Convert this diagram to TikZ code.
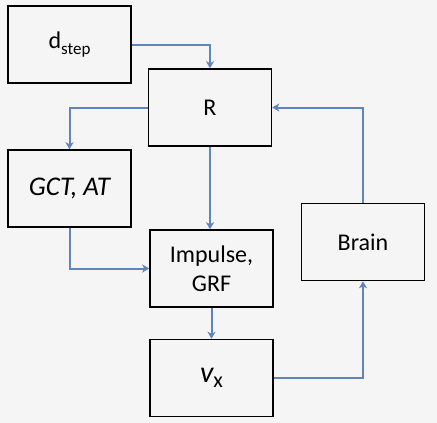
\documentclass[tikz,border=0pt]{standalone}
\usepackage{fontspec}
\setmainfont{Carlito}
\usetikzlibrary{arrows.meta}
\definecolor{flowblue}{RGB}{96,133,186}
\definecolor{paper}{RGB}{245,245,245}

\tikzset{
    block/.style={draw=black, line width=1.5pt, fill=paper, minimum width=123pt, minimum height=77pt, inner sep=0pt, font=\fontsize{24}{29}\selectfont, align=center},
    flow/.style={draw=flowblue, line width=2pt, -{Stealth[length=7pt,width=8pt,inset=2pt]}}
}

\begin{document}
\begin{tikzpicture}[x=1pt,y=-1pt]
    \fill[paper] (0,0) rectangle (437,423);
    \useasboundingbox (0,0) rectangle (437,423);
    % boxes
    \node[block] (dstep) at (69.5,44.5) {d\raisebox{-6pt}{\fontsize{17}{17}\selectfont step}};
    \node[block] (R) at (210,107.5) {R};
    \node[block] (gct) at (69.5,188.5) {\fontsize{27}{30}\selectfont\itshape GCT, AT};
    \node[block] (impulse) at (211.5,268.5) {Impulse,\\GRF};
    \node[block] (brain) at (363,242) {Brain};
    \node[block] (vx) at (211.5,378) {{\fontsize{30}{30}\selectfont\itshape v}\raisebox{-5pt}{\fontsize{22}{22}\selectfont x}};
    % connectors
    \draw[flow] (dstep.east) -| (R.north);
    \draw[flow] (R.west) -| (gct.north);
    \draw[flow] (R.south) -- (R.south |- impulse.north);
    \draw[flow] (gct.south) |- (impulse.west);
    \draw[flow] (impulse.south) -- (vx.north);
    \draw[flow] (vx.east) -| (brain.south);
    \draw[flow] (brain.north) |- (R.east);
\end{tikzpicture}
\end{document}
